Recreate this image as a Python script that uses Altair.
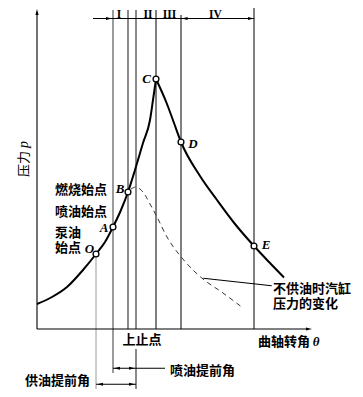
import altair as alt
import pandas as pd

# ---- data (crank angle theta in deg relative to TDC, pressure p in arbitrary units) ----
left_theta = [-49.5, -42, -34.5, -26.5, -20, -15.5, -11.5, -7.5, -4, -0.5, 3.5, 7, 8.5, 10]
left_p = [10.0, 12.8, 16.8, 23.6, 30, 34.8, 40.8, 47.6, 54.8, 63.6, 74.4, 83.6, 91.6, 100]
right_theta = [10, 15.35, 19, 22.5, 32, 40.5, 49.5, 59, 66.5, 74]
right_p = [100, 90.3, 82.4, 74.8, 61.2, 51.6, 42, 33.2, 26.8, 20.6]

dash_theta = [-2.5, 0, 2, 4.5, 7, 10.5, 15.5, 23, 28.5, 33.5, 43.5, 53.5]
dash_p = [56, 56.8, 56, 53.6, 50, 44.8, 36.8, 28.4, 23.6, 20, 14.4, 8.4]

pt_names = ["O", "A", "B", "C", "D", "E"]
pt_theta = [-20, -11.5, -4, 10, 22.5, 59]
pt_p = [30, 40.8, 54.8, 100, 74.8, 33.2]
lbl_theta = [-23.25, -16, -8, 5.25, 28.5, 65]
lbl_p = [32, 40.6, 56, 100, 74.2, 33.6]

# vertical guide lines
thin_theta, thin_top, thin_bot = [-20], [30], [-24.4]
mid_theta, mid_top, mid_bot = [-11.5], [127.6], [-17.6]
thick_theta = [-4, 0, 0]
thick_top = [127.6, 127.6, -8]
thick_bot = [0, 0, -24]
black_theta = [10, 22.5, 59]
black_top = [127.6, 125.6, 130.8]
black_bot = [0, 0, 0]

# straight segments: (t, p) -> (t2, p2)
seg_t = [-49.5, -49.5, -21.5, -11.5, -20, 33.65]
seg_p = [0, 0, 124.2, -15.7, -22.1, 20.3]
seg_t2 = [86, -49.5, 59, 14.5, 0, 67.85]
seg_p2 = [0, 126.4, 124.2, -15.7, -22.1, 17.3]

# arrow tips
ar_r_t = [-12, 59, 88, -0.5, -0.5]
ar_r_p = [124.2, 124.2, 0, -15.7, -22.1]
ar_l_t = [22.8, -11, -19.5]
ar_l_p = [124.2, -15.7, -22.1]
ar_u_t = [-49.5]
ar_u_p = [128]

roman = ["I", "II", "III", "IV"]
roman_t = [-8.5, 6, 16.75, 39.75]
roman_p = [128.2, 128.2, 128.2, 128.2]

cn_text = ["燃烧始点", "喷油始点", "泵油\n始点", "不供油时汽缸\n压力的变化",
           "曲轴转角", "喷油提前角", "供油提前角"]
cn_t = [-40.5, -40.5, -40.5, 68.5, 61, 17, -55.5]
cn_p = [55.6, 46.7, 38.5, 15.9, -5.2, -16.7, -20.8]

tdc_text, tdc_t, tdc_p = ["上止点"], [3], [-4.4]
theta_text, theta_t, theta_p = ["θ"], [90], [-5.2]
ylab_text, ylab_t, ylab_p = ["压力"], [-56], [66]
ysym_text, ysym_t, ysym_p = ["p"], [-56], [73.8]

# ---- chart ----
xs = alt.Scale(domain=[-64, 109.5], nice=False, zero=False)
ys = alt.Scale(domain=[-24, 128.4], nice=False, zero=False)


def X(f="t"):
    return alt.X(f"{f}:Q", scale=xs, axis=None)


def Y(f="p"):
    return alt.Y(f"{f}:Q", scale=ys, axis=None)


curve_df = pd.DataFrame({
    "t": left_theta + right_theta,
    "p": left_p + right_p,
    "seg": ["L"] * len(left_theta) + ["R"] * len(right_theta),
})
curve = alt.Chart(curve_df).mark_line(color="black", strokeWidth=2, interpolate="monotone").encode(
    x=X(), y=Y(), detail="seg:N")

dash = alt.Chart(pd.DataFrame({"t": dash_theta, "p": dash_p})).mark_line(
    color="#333", strokeWidth=1, strokeDash=[5, 4], interpolate="monotone").encode(x=X(), y=Y())


def vrules(ts, tops, bots, color, width):
    df = pd.DataFrame({"t": ts, "p": tops, "p2": bots})
    return alt.Chart(df).mark_rule(color=color, strokeWidth=width).encode(
        x=X(), y=Y(), y2=alt.Y2("p2:Q"))


v1 = vrules(thin_theta, thin_top, thin_bot, "#9a9a9a", 1)
v2 = vrules(mid_theta, mid_top, mid_bot, "#7a7a7a", 1.5)
v3 = vrules(thick_theta, thick_top, thick_bot, "#8a8a8a", 2)
v4 = vrules(black_theta, black_top, black_bot, "#000000", 1)

segs = alt.Chart(pd.DataFrame({"t": seg_t, "p": seg_p, "t2": seg_t2, "p2": seg_p2})).mark_rule(
    color="black", strokeWidth=1.1).encode(x=X(), y=Y(), x2=alt.X2("t2:Q"), y2=alt.Y2("p2:Q"))


def arrows(ts, ps, path):
    return alt.Chart(pd.DataFrame({"t": ts, "p": ps})).mark_point(
        shape=path, filled=True, color="black", opacity=1, size=16, strokeWidth=0).encode(x=X(), y=Y())


a_r = arrows(ar_r_t, ar_r_p, "M0,0L-3,-0.8L-3,0.8Z")
a_l = arrows(ar_l_t, ar_l_p, "M0,0L3,-0.8L3,0.8Z")
a_u = arrows(ar_u_t, ar_u_p, "M0,0L-0.8,3L0.8,3Z")

points = alt.Chart(pd.DataFrame({"t": pt_theta, "p": pt_p})).mark_point(
    shape="circle", filled=True, fill="white", stroke="black", strokeWidth=1.3, size=34, opacity=1
).encode(x=X(), y=Y())


def texts(labels, ts, ps, **kw):
    df = pd.DataFrame({"t": ts, "p": ps, "lab": labels})
    return alt.Chart(df).mark_text(**kw).encode(x=X(), y=Y(), text="lab:N")


pt_labels = texts(pt_names, lbl_theta, lbl_p, font="Liberation Serif", fontStyle="italic",
                  fontWeight="bold", fontSize=13, align="center", baseline="middle", color="black")
roman_labels = texts(roman, roman_t, roman_p, font="Liberation Serif", fontWeight="bold",
                     fontSize=11.5, align="center", baseline="top", color="black")
cn_labels = texts(cn_text, cn_t, cn_p, font="Noto Sans CJK SC", fontWeight="bold", fontSize=13,
                  align="left", baseline="middle", color="black", lineBreak="\n", lineHeight=15)
tdc_label = texts(tdc_text, tdc_t, tdc_p, font="Noto Sans CJK SC", fontWeight="bold", fontSize=13,
                  align="center", baseline="middle", color="black")
theta_label = texts(theta_text, theta_t, theta_p, font="Liberation Serif", fontStyle="italic",
                    fontWeight="bold", fontSize=13, align="center", baseline="middle", color="black")
ylab = texts(ylab_text, ylab_t, ylab_p, font="Noto Sans CJK SC", fontSize=13, angle=270,
             align="center", baseline="middle", color="black")
ysym = texts(ysym_text, ysym_t, ysym_p, font="Liberation Serif", fontStyle="italic", fontSize=14,
             angle=270, align="center", baseline="middle", color="black")

chart = alt.layer(
    v1, v2, v3, v4, segs, dash, curve, a_r, a_l, a_u, points,
    pt_labels, roman_labels, cn_labels, tdc_label, theta_label, ylab, ysym
).properties(
    width=347, height=381, padding=0, autosize=alt.AutoSizeParams(type="none"), background="white"
).configure_view(stroke=None)

chart.save("out.html", embed_options={"renderer": "svg", "actions": False})
